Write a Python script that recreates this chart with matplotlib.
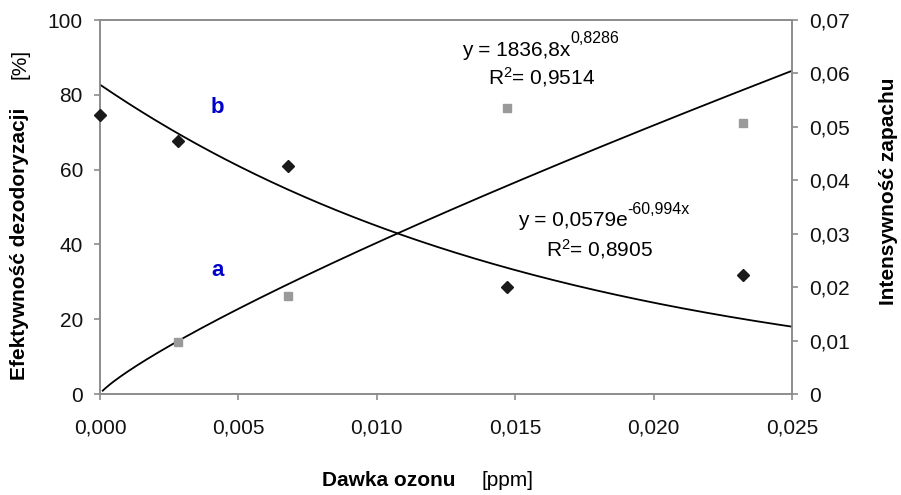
import numpy as np
import matplotlib
matplotlib.use("Agg")
import matplotlib.pyplot as plt
from matplotlib.ticker import FixedLocator, FuncFormatter

plt.rcParams['font.family'] = ['Liberation Sans', 'DejaVu Sans']
plt.rcParams['mathtext.fontset'] = 'custom'
plt.rcParams['mathtext.rm'] = 'Liberation Sans'
plt.rcParams['mathtext.default'] = 'regular'

# Ozone dose [ppm]
dose = [0.0, 0.00282, 0.00679, 0.0147, 0.02323]
dose_a = [0.00282, 0.00679, 0.0147, 0.02323]
# a: deodorization efficiency [%]
efficiency = [14.0, 26.2, 76.4, 72.5]
# b: odour intensity
intensity = [0.0522, 0.0474, 0.0427, 0.0200, 0.0222]

# Trendline coefficients
pow_coef, pow_exp = 1836.8, 0.8286
exp_coef, exp_rate = 0.0579, -60.994

x_ticks = [0.0, 0.005, 0.010, 0.015, 0.020, 0.025]
left_ticks = [0, 20, 40, 60, 80, 100]
right_ticks = [0, 0.01, 0.02, 0.03, 0.04, 0.05, 0.06, 0.07]

fs = 15
spine_col = '#8c8c8c'

fig = plt.figure(figsize=(9.01, 4.95), dpi=100)
ax = fig.add_axes([100 / 901, 1 - 394 / 495, 692 / 901, 374 / 495])
ax2 = ax.twinx()

ax.set_xlim(0, 0.025)
ax.set_ylim(0, 100)
ax2.set_ylim(0, 0.07)

# Trendlines
xs = np.linspace(0.0001, 0.025, 300)
ax.plot(xs, pow_coef * xs ** pow_exp, color='black', lw=1.3)
xe = np.linspace(0.0, 0.025, 300)
ax2.plot(xe, exp_coef * np.exp(exp_rate * xe), color='black', lw=1.3)

# Measured points
ax.plot(dose_a, efficiency, linestyle='none', marker='s', ms=6,
        color='#9a9a9a', clip_on=False, zorder=5)
ax2.plot(dose, intensity, linestyle='none', marker='D', ms=6,
         color='#1a1a1a', clip_on=False, zorder=5)


def comma_fmt(decimals):
    def f(v, pos):
        if abs(v) < 1e-12 and decimals == 2:
            return '0'
        return f"{v:.{decimals}f}".replace('.', ',')
    return FuncFormatter(f)


ax.xaxis.set_major_locator(FixedLocator(x_ticks))
ax.xaxis.set_major_formatter(comma_fmt(3))
ax.yaxis.set_major_locator(FixedLocator(left_ticks))
ax.yaxis.set_major_formatter(comma_fmt(0))
ax2.yaxis.set_major_locator(FixedLocator(right_ticks))
ax2.yaxis.set_major_formatter(comma_fmt(2))

for a in (ax, ax2):
    for s in a.spines.values():
        s.set_color(spine_col)
        s.set_linewidth(1.2)
    a.tick_params(labelsize=fs, labelcolor='#111111', color=spine_col,
                  length=4.3, width=1.2, direction='out', pad=8)
ax.tick_params(axis='x', pad=13)

# Series labels
ax.text(0.00425, 76.5, 'b', color='#0000cc', fontsize=16, fontweight='bold',
        ha='center', va='center')
ax.text(0.00425, 33, 'a', color='#0000cc', fontsize=16, fontweight='bold',
        ha='center', va='center')


def to_axes(px, py):
    return (px - 100) / 692, (394 - py) / 374


def equation(px, py, main, sup):
    x, y = to_axes(px, py)
    t = ax.text(x, y, main, fontsize=fs, ha='left', va='center',
                transform=ax.transAxes)
    ax.annotate(sup, xy=(1.0, 0.72), xycoords=t, fontsize=11.5,
                ha='left', va='bottom')


def r_squared(px, py, label):
    x, y = to_axes(px, py)
    ax.text(x, y, label, fontsize=fs, ha='center', va='center',
            transform=ax.transAxes)


equation(462, 50, 'y = 1836,8x', '0,8286')
r_squared(542, 77, 'R$^2$= 0,9514')
equation(518, 221, 'y = 0,0579e', '-60,994x')
r_squared(599, 249, 'R$^2$= 0,8905')

# Axis titles
fig.text(20 / 901, 1 - 244 / 495, 'Efektywność dezodoryzacji', rotation=90,
         fontsize=fs, fontweight='bold', ha='center', va='center')
fig.text(20 / 901, 1 - 64 / 495, '[%]', rotation=90,
         fontsize=fs, ha='center', va='center')
fig.text(889 / 901, 1 - 191 / 495, 'Intensywność zapachu', rotation=90,
         fontsize=fs, fontweight='bold', ha='center', va='center')
fig.text(389 / 901, 1 - 480 / 495, 'Dawka ozonu', fontsize=fs,
         fontweight='bold', ha='center', va='center')
fig.text(508 / 901, 1 - 480 / 495, '[ppm]', fontsize=fs,
         ha='center', va='center')

fig.savefig('out.png', dpi=100)
